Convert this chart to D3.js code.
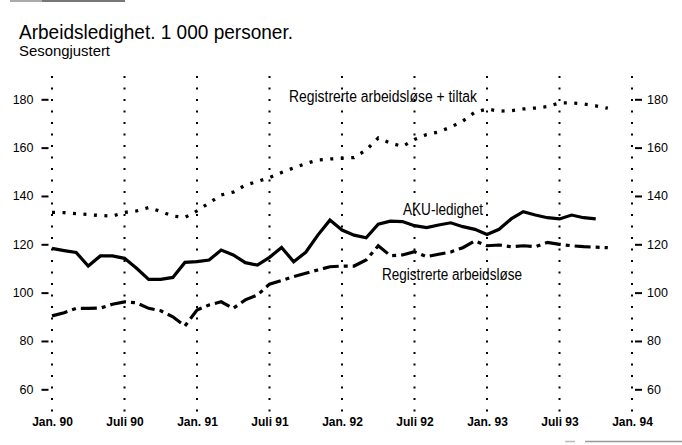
<!DOCTYPE html>
<html>
<head>
<meta charset="utf-8">
<script src="https://cdn.jsdelivr.net/npm/d3@7"></script>
<style>
  html, body { margin: 0; padding: 0; background: #fff; }
  svg { display: block; }
  text { font-family: "Liberation Sans Narrow", "Arial Narrow", "Liberation Sans", Arial, sans-serif; fill: #000; }
</style>
</head>
<body>
<svg id="chart" width="682" height="445"></svg>
<script>
// ---- Data (monthly, seasonally adjusted, 1 000 persons), starting Jan. 1990 ----
const startYear = 1990;
const akuLedighet = [118.3, 117.4, 116.6, 111.0, 115.2, 115.2, 114.2, 110.1, 105.5, 105.5, 106.3, 112.5,
                     112.8, 113.5, 117.6, 115.6, 112.4, 111.4, 114.6, 118.7, 112.8, 116.7, 123.8, 130.0,
                     125.9, 123.8, 122.7, 128.3, 129.6, 129.4, 127.7, 126.9, 128.0, 128.9, 127.3, 126.2,
                     124.1, 126.2, 130.5, 133.5, 132.1, 131.0, 130.5, 132.1, 131.0, 130.5];
const regArbeidslose = [90.4, 91.7, 93.5, 93.5, 93.6, 95.2, 96.2, 95.8, 93.5, 92.5, 90.0, 86.2,
                        92.8, 94.9, 96.2, 93.5, 97.0, 99.0, 103.5, 105.0, 106.6, 108.0, 109.4, 110.7,
                        111.0, 111.0, 113.5, 119.4, 115.3, 115.6, 116.9, 114.9, 115.9, 116.8, 118.6, 121.4,
                        119.4, 119.7, 119.0, 119.4, 119.0, 120.8, 120.0, 119.4, 119.0, 118.8, 118.6];
const regPlusTiltak = [133.2, 133.1, 132.7, 132.3, 131.9, 131.7, 133.2, 133.8, 135.2, 133.6, 131.7, 131.1,
                       133.8, 137.1, 140.4, 141.6, 144.5, 146.0, 147.6, 149.7, 151.6, 153.4, 154.9, 155.3,
                       155.6, 155.9, 159.0, 164.0, 161.9, 160.5, 163.4, 165.4, 166.5, 168.5, 171.0, 174.7,
                       176.0, 175.1, 175.3, 176.0, 176.4, 177.0, 178.5, 178.5, 178.1, 177.3, 176.3];
const xTickMonths = [0, 6, 12, 18, 24, 30, 36, 42, 48];
const xTickLabels = ["Jan. 90", "Juli 90", "Jan. 91", "Juli 91", "Jan. 92", "Juli 92", "Jan. 93", "Juli 93", "Jan. 94"];
const yTicks = [60, 80, 100, 120, 140, 160, 180];
const titleText = "Arbeidsledighet. 1 000 personer.";
const subtitleText = "Sesongjustert";
const seriesLabels = ["Registrerte arbeidsløse + tiltak", "AKU-ledighet", "Registrerte arbeidsløse"];

// ---- Layout ----
const svg = d3.select("#chart");
svg.append("rect").attr("width", 682).attr("height", 445).attr("fill", "#fff");

// faint scan edges seen in the original
svg.append("line").attr("x1", 10).attr("x2", 42).attr("y1", 1).attr("y2", 1)
  .attr("stroke", "#aaa").attr("stroke-width", 2);
svg.append("line").attr("x1", 42).attr("x2", 125).attr("y1", 1).attr("y2", 1)
  .attr("stroke", "#777").attr("stroke-width", 2);
svg.append("line").attr("x1", 565).attr("x2", 575).attr("y1", 441.5).attr("y2", 441.5)
  .attr("stroke", "#bbb").attr("stroke-width", 1.5);
svg.append("line").attr("x1", 585).attr("x2", 682).attr("y1", 441.5).attr("y2", 441.5)
  .attr("stroke", "#999").attr("stroke-width", 1.5);

const x = d3.scaleLinear().domain([0, 48]).range([52, 632]);
const y = d3.scaleLinear().domain([60, 180]).range([389.3, 99.3]);

// Title
svg.append("text").attr("x", 19).attr("y", 38.5).attr("font-size", 21)
  .attr("textLength", 274).attr("lengthAdjust", "spacingAndGlyphs").text(titleText);
svg.append("text").attr("x", 19).attr("y", 56).attr("font-size", 14.5)
  .attr("textLength", 91).attr("lengthAdjust", "spacingAndGlyphs").text(subtitleText);

// Vertical dotted grid lines
svg.append("g").selectAll("line").data(xTickMonths).join("line")
  .attr("x1", d => x(d)).attr("x2", d => x(d))
  .attr("y1", 76).attr("y2", 412)
  .attr("stroke", "#000").attr("stroke-width", 2)
  .attr("stroke-dasharray", "2,9.5");

// Left axis
const yAxisL = d3.axisLeft(y).tickValues(yTicks).tickSize(7).tickPadding(8);
const gL = svg.append("g").attr("transform", "translate(48.5,0)").call(yAxisL);
gL.select(".domain").remove();
gL.selectAll("line").attr("stroke", "#000").attr("stroke-width", 2);
gL.selectAll("text").attr("font-size", 12.5).attr("font-family", null);

// Right axis
const yAxisR = d3.axisRight(y).tickValues(yTicks).tickSize(7).tickPadding(5);
const gR = svg.append("g").attr("transform", "translate(635,0)").call(yAxisR);
gR.select(".domain").remove();
gR.selectAll("line").attr("stroke", "#000").attr("stroke-width", 2);
gR.selectAll("text").attr("font-size", 12.5).attr("font-family", null);

// Bottom axis labels
const xAxis = d3.axisBottom(x).tickValues(xTickMonths).tickSize(0).tickPadding(7)
  .tickFormat((d, i) => xTickLabels[i]);
const gB = svg.append("g").attr("transform", "translate(0,410)").call(xAxis);
gB.select(".domain").remove();
gB.selectAll("text").attr("font-size", 12).attr("font-weight", "bold").attr("font-family", null);

// Lines
const line = d3.line().x((d, i) => x(i)).y(d => y(d)).curve(d3.curveLinear);

svg.append("path").datum(regPlusTiltak).attr("d", line)
  .attr("fill", "none").attr("stroke", "#000").attr("stroke-width", 3.3)
  .attr("stroke-dasharray", "3,7.5");

svg.append("path").datum(regArbeidslose).attr("d", line)
  .attr("fill", "none").attr("stroke", "#000").attr("stroke-width", 3.2)
  .attr("stroke-dasharray", "16,5,4,5");

svg.append("path").datum(akuLedighet).attr("d", line)
  .attr("fill", "none").attr("stroke", "#000").attr("stroke-width", 3.2)
  .attr("stroke-linejoin", "miter");

// Series labels
svg.append("text").attr("x", 289).attr("y", 101.5).attr("font-size", 16)
  .attr("textLength", 188).attr("lengthAdjust", "spacingAndGlyphs").text(seriesLabels[0]);
svg.append("text").attr("x", 403).attr("y", 215).attr("font-size", 16)
  .attr("textLength", 80).attr("lengthAdjust", "spacingAndGlyphs").text(seriesLabels[1]);
svg.append("text").attr("x", 382).attr("y", 280).attr("font-size", 16)
  .attr("textLength", 140).attr("lengthAdjust", "spacingAndGlyphs").text(seriesLabels[2]);
</script>
</body>
</html>
